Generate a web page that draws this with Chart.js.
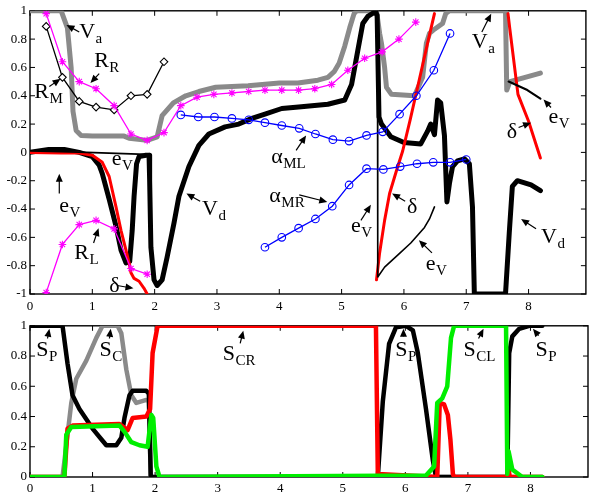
<!DOCTYPE html>
<html>
<head>
<meta charset="utf-8">
<script src="https://cdn.jsdelivr.net/npm/chart.js@4.4.0/dist/chart.umd.min.js"></script>
<style>
body { margin: 0; background: #fff; }
#wrap { position: relative; width: 591px; height: 497px; }
canvas { position: absolute; left: 0; }
</style>
</head>
<body>
<div id="wrap">
<canvas id="topChart" width="591" height="315" style="top:0"></canvas>
<canvas id="bottomChart" width="591" height="182" style="top:315px"></canvas>
</div>
<script>
// top panel series
const vaX = [0, 0.5, 0.6, 0.66, 0.69, 0.74, 0.82, 1.0, 1.25, 1.51, 1.59, 1.88, 2.04, 2.12, 2.3, 2.5, 2.71, 2.98, 3.5, 4.0, 4.3, 4.62, 4.78, 4.88, 4.96, 5.05, 5.13, 5.2, 5.24, 5.56, 5.61, 5.64, 5.69, 5.72, 5.8, 6.17, 6.3, 6.36, 6.41, 6.49, 6.62, 6.67, 6.73, 7.63, 7.65, 7.70, 8.19];
const vaY = [1, 1, 0.88, 0.60, 0.29, 0.155, 0.12, 0.115, 0.115, 0.115, 0.10, 0.085, 0.11, 0.26, 0.35, 0.40, 0.43, 0.46, 0.47, 0.49, 0.49, 0.51, 0.53, 0.57, 0.63, 0.75, 0.88, 0.98, 1.0, 1.0, 0.84, 0.77, 0.60, 0.46, 0.41, 0.40, 0.53, 0.77, 0.84, 0.87, 0.91, 0.98, 1.0, 1.0, 0.44, 0.50, 0.56];

const vdX = [0, 0.3, 0.55, 0.79, 1.0, 1.11, 1.16, 1.27, 1.38, 1.46, 1.54, 1.6, 1.64, 1.67, 1.71, 1.75, 1.86, 1.91, 1.92, 1.94, 1.99, 2.04, 2.12, 2.2, 2.31, 2.39, 2.55, 2.71, 2.87, 3.13, 3.35, 3.56, 3.77, 4.04, 4.31, 4.78, 5.05, 5.16, 5.26, 5.34, 5.42, 5.53, 5.57, 5.60, 5.64, 5.69, 5.79, 6.0, 6.27, 6.38, 6.43, 6.49, 6.54, 6.59, 6.65, 6.69, 6.73, 6.78, 6.86, 6.97, 7.05, 7.10, 7.13, 7.63, 7.69, 7.74, 7.82, 8.04, 8.19];
const vdY = [0.0, 0.02, 0.02, 0.0, -0.03, -0.09, -0.15, -0.33, -0.52, -0.69, -0.78, -0.77, -0.55, -0.31, -0.08, -0.03, -0.02, -0.02, -0.2, -0.67, -0.9, -0.94, -0.9, -0.74, -0.5, -0.31, -0.1, 0.05, 0.13, 0.18, 0.20, 0.24, 0.27, 0.31, 0.32, 0.34, 0.37, 0.48, 0.72, 0.91, 0.96, 0.99, 0.97, 0.25, 0.2, 0.17, 0.11, 0.07, 0.06, 0.15, 0.20, 0.125, 0.37, 0.35, 0.12, -0.35, -0.22, -0.10, -0.06, -0.045, -0.08, -0.385, -1.0, -1.0, -0.57, -0.24, -0.20, -0.23, -0.27];

const dlX = [0, 0.5, 0.79, 1.0, 1.16, 1.27, 1.38, 1.46, 1.54, 1.59, 1.62, 1.67, 1.75, 1.83, 1.88];
const dlY = [0.0, -0.005, -0.005, -0.02, -0.07, -0.17, -0.385, -0.55, -0.69, -0.78, -0.85, -0.89, -0.91, -0.96, -1.0];
const dmX = [5.56, 5.61, 5.69, 5.77, 5.88, 5.98, 6.1, 6.25, 6.4, 6.49];
const dmY = [-0.90, -0.71, -0.48, -0.29, -0.13, 0.01, 0.23, 0.52, 0.81, 0.98];
const drX = [7.67, 7.70, 7.83, 8.0, 8.19];
const drY = [0.98, 0.87, 0.41, 0.22, -0.04];

const elX = [0, 0.79, 1.86, 1.9];
const elY = [0.01, 0.002, -0.014, -0.015];
const emX = [5.575, 5.58, 5.69, 5.9, 6.11, 6.33, 6.41, 6.49];
const emY = [1.0, -0.88, -0.81, -0.725, -0.64, -0.53, -0.47, -0.385];
const erX = [7.68, 7.98, 8.19];
const erY = [0.50, 0.44, 0.38];

const rrX = [0.26, 0.52, 0.79, 1.06, 1.35, 1.62, 1.88, 2.15, 2.42, 2.68, 2.95, 3.24, 3.51, 3.77, 4.04, 4.31, 4.57, 4.84, 5.10, 5.37, 5.65, 5.92, 6.19];
const rrY = [0.98, 0.64, 0.50, 0.45, 0.33, 0.13, 0.085, 0.14, 0.33, 0.39, 0.41, 0.42, 0.43, 0.44, 0.44, 0.44, 0.45, 0.48, 0.58, 0.665, 0.71, 0.80, 0.92];
const rmX = [0.26, 0.52, 0.79, 1.06, 1.35, 1.62, 1.88, 2.15];
const rmY = [0.89, 0.53, 0.36, 0.32, 0.30, 0.40, 0.41, 0.64];
const rlX = [0.26, 0.52, 0.79, 1.06, 1.35, 1.62, 1.88];
const rlY = [-0.99, -0.65, -0.51, -0.48, -0.54, -0.82, -0.86];

const amlX = [2.42, 2.70, 2.96, 3.24, 3.51, 3.77, 4.04, 4.32, 4.58, 4.86, 5.12, 5.40, 5.66, 5.93, 6.20, 6.48, 6.74];
const amlY = [0.265, 0.25, 0.25, 0.24, 0.23, 0.21, 0.19, 0.17, 0.13, 0.09, 0.08, 0.12, 0.145, 0.27, 0.40, 0.58, 0.84];
const amrX = [3.77, 4.04, 4.31, 4.58, 4.85, 5.12, 5.40, 5.67, 5.94, 6.21, 6.47, 6.74, 7.00];
const amrY = [-0.67, -0.60, -0.535, -0.47, -0.38, -0.23, -0.115, -0.12, -0.10, -0.08, -0.07, -0.07, -0.05];

// bottom panel series
const spX = [0, 0.52, 0.60, 0.68, 0.79, 1.0, 1.16, 1.22, 1.38, 1.46, 1.51, 1.59, 1.64, 1.86, 1.90, 1.93, 5.56, 5.64, 5.74, 5.85, 6.01, 6.12, 6.2, 6.33, 6.44, 6.49, 7.63, 7.66, 7.71, 7.82, 7.98, 8.19];
const spY = [1, 1, 0.75, 0.54, 0.45, 0.32, 0.24, 0.21, 0.21, 0.26, 0.39, 0.54, 0.57, 0.57, 0.55, 0, 0, 0.5, 0.88, 0.99, 1.0, 0.97, 0.82, 0.45, 0.11, 0, 0, 0.82, 0.93, 0.98, 1.0, 1.0];
const scX = [0, 0.52, 0.60, 0.66, 0.74, 0.90, 1.06, 1.16, 1.40, 1.46, 1.54, 1.62, 1.70, 1.86, 1.90, 1.93, 8.19];
const scY = [0, 0, 0.28, 0.49, 0.65, 0.77, 0.92, 1.0, 1.0, 0.95, 0.71, 0.54, 0.49, 0.51, 0.50, 0, 0];
const scrX = [0, 0.55, 0.60, 0.68, 1.43, 1.56, 1.64, 1.86, 1.92, 1.96, 2.04, 5.53, 5.56, 6.51, 6.55, 6.62, 6.68, 6.72, 6.76, 6.78, 7.63, 7.65, 7.67, 8.19];
const scrY = [0, 0, 0.32, 0.34, 0.35, 0.31, 0.39, 0.40, 0.45, 0.82, 1.0, 1.0, 0.02, 0, 0.49, 0.48, 0.41, 0.25, 0.02, 0, 0, 0.05, 0, 0];
const sclX = [0, 0.55, 0.58, 0.66, 1.43, 1.51, 1.62, 1.75, 1.88, 1.94, 1.97, 2.02, 2.07, 6.33, 6.46, 6.51, 6.59, 6.67, 6.73, 6.78, 7.61, 7.63, 7.65, 7.71, 7.87, 8.19];
const sclY = [0, 0, 0.28, 0.33, 0.34, 0.30, 0.23, 0.21, 0.20, 0.41, 0.39, 0.07, 0, 0.01, 0.07, 0.49, 0.52, 0.60, 0.92, 1.0, 1.0, 0.02, 0.17, 0.05, 0, 0];

// curve labels: main text, subscript, text anchor, arrow from -> to (data units)
const topNotes = [
  { t: 'V', s: 'a', x: 0.79, y: 0.81, from: [0.79, 0.85], to: [0.585, 0.90] },
  { t: 'R', s: 'R', x: 1.03, y: 0.60, from: [1.11, 0.556], to: [0.97, 0.49] },
  { t: 'R', s: 'M', x: 0.07, y: 0.387, from: [0.31, 0.465], to: [0.49, 0.52] },
  { t: 'e', s: 'V', x: 1.31, y: -0.09 },
  { t: 'e', s: 'V', x: 0.47, y: -0.42, from: [0.47, -0.29], to: [0.47, -0.15] },
  { t: 'R', s: 'L', x: 0.71, y: -0.75, from: [1.02, -0.64], to: [1.10, -0.535] },
  { t: 'δ', s: '', x: 1.27, y: -0.985, from: [1.40, -0.94], to: [1.66, -0.96] },
  { t: 'V', s: 'd', x: 2.76, y: -0.44, from: [2.73, -0.345], to: [2.51, -0.29] },
  { t: 'α', s: 'ML', x: 3.87, y: -0.077, from: [4.27, 0.014], to: [4.43, 0.12] },
  { t: 'α', s: 'MR', x: 3.84, y: -0.35, from: [4.32, -0.30], to: [4.77, -0.35] },
  { t: 'e', s: 'V', x: 5.15, y: -0.56, from: [5.31, -0.48], to: [5.47, -0.37] },
  { t: 'δ', s: '', x: 6.05, y: -0.43, from: [6.02, -0.345], to: [5.81, -0.29] },
  { t: 'e', s: 'V', x: 6.35, y: -0.83, from: [6.45, -0.71], to: [6.24, -0.62] },
  { t: 'V', s: 'd', x: 8.2, y: -0.64, from: [8.12, -0.54], to: [7.88, -0.47] },
  { t: 'V', s: 'a', x: 7.09, y: 0.74, from: [7.25, 0.85], to: [7.40, 0.98] },
  { t: 'δ', s: '', x: 7.65, y: 0.10, from: [7.84, 0.176], to: [8.04, 0.21] },
  { t: 'e', s: 'V', x: 8.32, y: 0.21, from: [8.36, 0.317], to: [8.24, 0.373] }
];
const bottomNotes = [
  { t: 'S', s: 'P', x: 0.10, y: 0.80, from: [0.28, 0.916], to: [0.31, 0.98] },
  { t: 'S', s: 'C', x: 1.11, y: 0.80, from: [1.27, 0.916], to: [1.29, 0.98] },
  { t: 'S', s: 'CR', x: 3.08, y: 0.774, from: [3.36, 0.884], to: [3.41, 0.968] },
  { t: 'S', s: 'P', x: 5.84, y: 0.80, from: [5.97, 0.93], to: [5.97, 0.98] },
  { t: 'S', s: 'CL', x: 6.93, y: 0.80, from: [7.17, 0.916], to: [7.25, 0.98] },
  { t: 'S', s: 'P', x: 8.08, y: 0.80, from: [8.13, 0.935], to: [8.04, 0.98] }
];

const serif = '"Liberation Serif", "DejaVu Serif", serif';
const GRAY = '#8a8a8a', RED = '#ff0000', MAG = '#ff00ff', BLUE = '#0000ff', GREEN = '#00ee00';

function pts(xs, ys) {
  return xs.map((x, i) => ({ x: x, y: ys[i] }));
}

function curve(xs, ys, color, width) {
  return {
    data: pts(xs, ys),
    showLine: true,
    borderColor: color,
    borderWidth: width,
    pointRadius: 0,
    borderJoinStyle: 'round',
    borderCapStyle: 'round',
    tension: 0
  };
}

function marked(xs, ys, color, style, fill) {
  return {
    data: pts(xs, ys),
    showLine: true,
    borderColor: color,
    borderWidth: 1.3,
    pointStyle: style,
    pointRadius: 3.8,
    pointBorderColor: color,
    pointBackgroundColor: fill,
    pointBorderWidth: 1.1,
    tension: 0
  };
}

// box with inward ticks
const frame = {
  id: 'frame',
  beforeDatasetsDraw(chart) {
    const ctx = chart.ctx, a = chart.chartArea;
    const xs = chart.scales.x, ys = chart.scales.y;
    ctx.save();
    ctx.strokeStyle = '#000';
    ctx.lineWidth = 1.4;
    ctx.strokeRect(a.left, a.top, a.right - a.left, a.bottom - a.top);
    ctx.beginPath();
    xs.ticks.forEach(t => {
      const p = xs.getPixelForValue(t.value);
      ctx.moveTo(p, a.bottom); ctx.lineTo(p, a.bottom - 5);
      ctx.moveTo(p, a.top); ctx.lineTo(p, a.top + 5);
    });
    ys.ticks.forEach(t => {
      const p = ys.getPixelForValue(t.value);
      ctx.moveTo(a.left, p); ctx.lineTo(a.left + 5, p);
      ctx.moveTo(a.right, p); ctx.lineTo(a.right - 5, p);
    });
    ctx.lineWidth = 1;
    ctx.stroke();
    ctx.restore();
  }
};

function notesPlugin(list) {
  return {
    id: 'notes',
    afterDatasetsDraw(chart) {
      const ctx = chart.ctx;
      const xs = chart.scales.x, ys = chart.scales.y;
      ctx.save();
      ctx.fillStyle = '#000';
      ctx.strokeStyle = '#000';
      list.forEach(n => {
        if (n.from) {
          const x1 = xs.getPixelForValue(n.from[0]), y1 = ys.getPixelForValue(n.from[1]);
          const x2 = xs.getPixelForValue(n.to[0]), y2 = ys.getPixelForValue(n.to[1]);
          const ang = Math.atan2(y2 - y1, x2 - x1);
          ctx.lineWidth = 1.2;
          ctx.beginPath();
          ctx.moveTo(x1, y1);
          ctx.lineTo(x2 - 5 * Math.cos(ang), y2 - 5 * Math.sin(ang));
          ctx.stroke();
          ctx.beginPath();
          ctx.moveTo(x2, y2);
          ctx.lineTo(x2 - 8 * Math.cos(ang) + 3.5 * Math.sin(ang), y2 - 8 * Math.sin(ang) - 3.5 * Math.cos(ang));
          ctx.lineTo(x2 - 8 * Math.cos(ang) - 3.5 * Math.sin(ang), y2 - 8 * Math.sin(ang) + 3.5 * Math.cos(ang));
          ctx.closePath();
          ctx.fill();
        }
        const px = xs.getPixelForValue(n.x), py = ys.getPixelForValue(n.y);
        ctx.textBaseline = 'alphabetic';
        ctx.textAlign = 'left';
        ctx.font = '22px ' + serif;
        ctx.fillText(n.t, px, py);
        const w = ctx.measureText(n.t).width;
        if (n.s) {
          ctx.font = '15px ' + serif;
          ctx.fillText(n.s, px + w + 0.5, py + 5);
        }
      });
      ctx.restore();
    }
  };
}

function axes(ymin, ymax, xHeight, pad) {
  return {
    x: {
      type: 'linear', min: 0, max: 8.92,
      grid: { display: false, drawTicks: false },
      border: { display: false },
      ticks: { stepSize: 1, includeBounds: false, autoSkip: false, padding: pad, color: '#000', font: { family: serif, size: 13 } },
      afterFit: s => { s.height = xHeight; }
    },
    y: {
      type: 'linear', min: ymin, max: ymax,
      grid: { display: false, drawTicks: false },
      border: { display: false },
      ticks: { stepSize: 0.2, includeBounds: false, autoSkip: false, padding: 3, color: '#000', font: { family: serif, size: 13 },
        callback: v => String(+v.toFixed(1)) },
      afterFit: s => { s.width = 30; }
    }
  };
}

const baseOpts = {
  responsive: false,
  animation: false,
  plugins: { legend: { display: false }, tooltip: { enabled: false } }
};

new Chart(document.getElementById('topChart'), {
  type: 'scatter',
  data: {
    datasets: [
      marked(amrX, amrY, BLUE, 'circle', 'rgba(0,0,0,0)'),
      marked(amlX, amlY, BLUE, 'circle', 'rgba(0,0,0,0)'),
      marked(rrX, rrY, MAG, 'star', MAG),
      marked(rlX, rlY, MAG, 'star', MAG),
      marked(rmX, rmY, '#000', 'rectRot', '#fff'),
      curve(elX, elY, '#000', 1.6),
      curve(emX, emY, '#000', 1.6),
      curve(erX, erY, '#000', 2.2),
      curve(dlX, dlY, RED, 3),
      curve(dmX, dmY, RED, 3),
      curve(drX, drY, RED, 3),
      curve(vdX, vdY, '#000', 5),
      curve(vaX, vaY, GRAY, 5)
    ]
  },
  options: Object.assign({}, baseOpts, {
    layout: { padding: { top: 10, right: 3, left: 0, bottom: 0 } },
    scales: axes(-1, 1, 21, 5)
  }),
  plugins: [frame, notesPlugin(topNotes)]
});

new Chart(document.getElementById('bottomChart'), {
  type: 'scatter',
  data: {
    datasets: [
      curve(sclX, sclY, GREEN, 4.5),
      curve(scrX, scrY, RED, 4.5),
      curve(spX, spY, '#000', 4.5),
      curve(scX, scY, GRAY, 4.5)
    ]
  },
  options: Object.assign({}, baseOpts, {
    layout: { padding: { top: 7, right: 3, left: 0, bottom: 0 } },
    scales: axes(0, 1, 20, 4)
  }),
  plugins: [frame, notesPlugin(bottomNotes)]
});
</script>
</body>
</html>
